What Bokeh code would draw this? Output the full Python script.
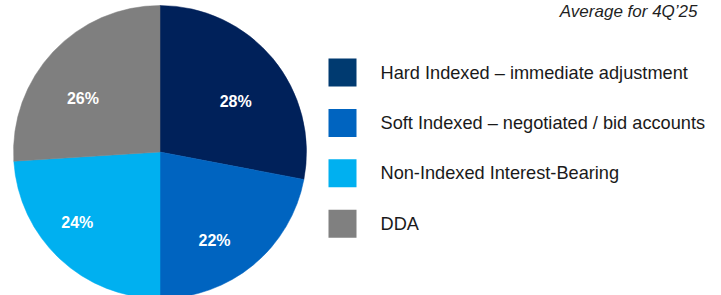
import math
from bokeh.plotting import figure
from bokeh.models import Range1d, ColumnDataSource
from bokeh.core.properties import value
from bokeh.embed import file_html
from bokeh.resources import INLINE

# ---- data ----
categories = [
    "Hard Indexed \u2013 immediate adjustment",
    "Soft Indexed \u2013 negotiated / bid accounts",
    "Non-Indexed Interest-Bearing",
    "DDA",
]
shares = [28, 22, 24, 26]
pct_labels = ["28%", "22%", "24%", "26%"]
title_text = "Average for 4Q\u201925"

# ---- styles ----
pie_colors = ["#00215a", "#0064c0", "#00b0f0", "#7f7f7f"]
legend_colors = ["#003a70", "#0064c0", "#00b0f0", "#808080"]
# label placement tweaks (relative to slice mid-angle)
label_angle_nudge_deg = [6.0, 8.0, 6.5, -8.5]
label_radius_frac = [0.62, 0.71, 0.74, 0.64]
FONT = "Liberation Sans"

W, H = 721, 295
p = figure(width=W, height=H, output_backend="svg", toolbar_location=None,
           x_range=Range1d(0, W), y_range=Range1d(0, H), min_border=0)
p.axis.visible = False
p.grid.visible = False
p.outline_line_color = None
p.background_fill_color = "white"
p.border_fill_color = "white"

# image -> figure coords helpers
def fx(X):
    return X

def fy(Y):
    return H - Y

cx, cy, R = fx(159.5), fy(151.5), 146.5
total = float(sum(shares))
starts, ends, mids = [], [], []
c = 0.0
for s in shares:
    a0 = math.pi / 2 - 2 * math.pi * c / total
    c += s
    a1 = math.pi / 2 - 2 * math.pi * c / total
    starts.append(a0)
    ends.append(a1)
    mids.append((a0 + a1) / 2)

src = ColumnDataSource(dict(start=starts, end=ends, color=pie_colors))
p.wedge(x=cx, y=cy, radius=R, start_angle="start", end_angle="end",
        direction="clock", fill_color="color", line_color="color",
        line_width=0.5, source=src)

lx, lyy = [], []
for m, nd, rf in zip(mids, label_angle_nudge_deg, label_radius_frac):
    a = m - math.radians(nd)  # clockwise nudge
    lx.append(cx + rf * R * math.cos(a))
    lyy.append(cy + rf * R * math.sin(a))
lab = ColumnDataSource(dict(x=lx, y=lyy, t=pct_labels))
p.text(x="x", y="y", text="t", source=lab, text_color="white",
       text_font=value(FONT), text_font_style="bold",
       text_font_size="16px", text_align="center", text_baseline="middle")

# legend
sq_x = fx(342)
y0 = fy(72)
step = 50.4
ly = [y0 - i * step for i in range(len(categories))]
p.rect(x=[sq_x] * len(categories), y=ly, width=28, height=28,
       fill_color=legend_colors, line_color=None)
p.text(x=[fx(380)] * len(categories), y=ly, text=categories,
       text_color="#1a1a1a", text_font=value(FONT), text_font_size="18.2px",
       text_align="left", text_baseline="middle")

# title
p.text(x=[fx(697)], y=[fy(11)], text=[title_text], text_color="#1f1f1f",
       text_font=value(FONT), text_font_style="italic", text_font_size="17px",
       text_align="right", text_baseline="middle")

open("out.html", "w").write(file_html(p, INLINE))
